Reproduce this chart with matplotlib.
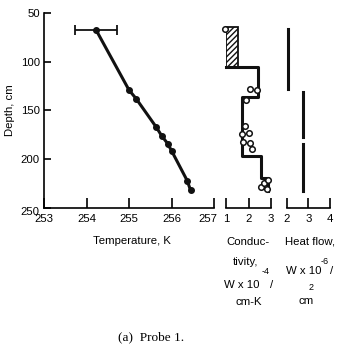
import matplotlib
matplotlib.use("Agg")
import matplotlib.pyplot as plt
from matplotlib.patches import Rectangle
import matplotlib.transforms as mtransforms

# ---- data ----
temp_T = [254.22, 255.0, 255.17, 255.64, 255.77, 255.91, 256.01, 256.37, 256.45]
temp_depth = [67, 129, 138, 167, 176, 184, 192, 222, 232]
temp_err = 0.49

cond_step_x = [1.0, 2.4, 2.4, 1.72, 1.72, 2.56, 2.56, 2.86, 2.86]
cond_step_y = [105, 105, 136, 136, 197, 197, 219, 219, 233]
cond_box = (1.0, 1.52, 64, 105)  # x0, x1, depth top, depth bottom
cond_pts_x = [0.95, 2.07, 2.39, 1.89, 1.84, 2.04, 1.72, 1.77, 2.07, 2.14, 2.54, 2.69, 2.81, 2.88]
cond_pts_d = [66, 128, 129, 139, 166, 173, 174, 182, 183, 190, 228, 224, 231, 221]

heat_x = [2.07, 2.73, 2.76]
heat_top = [66, 131, 184]
heat_bot = [128, 177, 233]

temp_ticks = [253, 254, 255, 256, 257]
depth_ticks = [50, 100, 150, 200, 250]
cond_ticks = [1, 2, 3]
heat_ticks = [2, 3, 4]

W, H = 341, 360
fig = plt.figure(figsize=(W / 100, H / 100), dpi=100)
FONT = ['Liberation Sans', 'DejaVu Sans']
plt.rcParams['font.family'] = FONT
FS = 8.2

def ax_rect(x0, x1, ytop, ybot):
    return [x0 / W, 1 - ybot / H, (x1 - x0) / W, (ybot - ytop) / H]

ytop, ybot = 13, 208
ax1 = fig.add_axes(ax_rect(44, 214, ytop, ybot))
ax2 = fig.add_axes(ax_rect(226, 271, ytop, ybot))
ax3 = fig.add_axes(ax_rect(287, 329.5, ytop, ybot))

lw_data = 2.2
col = '#111111'

# temperature
ax1.plot(temp_T, temp_depth, color=col, lw=lw_data, marker='o', ms=4, zorder=3)
ax1.errorbar([temp_T[0]], [temp_depth[0]], xerr=[[temp_err], [temp_err]], color=col,
             lw=1.3, capsize=3.5, capthick=1.3)
ax1.set_xlim(253, 257)
ax1.set_ylim(250, 50)
ax1.set_xticks(temp_ticks)
ax1.set_yticks(depth_ticks)
ax1.spines['top'].set_visible(False)
ax1.spines['right'].set_visible(False)
ax1.tick_params(axis='x', direction='in', length=7, width=1.2, labelsize=FS, pad=4)
ax1.tick_params(axis='y', direction='in', length=5, width=1.2, labelsize=FS, pad=3)
ax1.set_ylabel('Depth, cm', fontsize=FS, labelpad=4)

# conductivity
x0, x1, d0, d1 = cond_box
ax2.add_patch(Rectangle((x0, d0), x1 - x0, d1 - d0, facecolor='white', edgecolor=col,
                        hatch='//////', lw=1.3))
ax2.plot(cond_step_x, cond_step_y, color=col, lw=lw_data, zorder=3)
ax2.plot(cond_pts_x, cond_pts_d, linestyle='none', marker='o', ms=4, mfc='white',
         mec=col, mew=1.1, zorder=4)
ax2.set_xlim(1, 3)
ax2.set_ylim(250, 50)
ax2.set_xticks(cond_ticks)

# heat flow
for hx, t, b in zip(heat_x, heat_top, heat_bot):
    ax3.plot([hx, hx], [t, b], color=col, lw=lw_data)
ax3.set_xlim(2, 4)
ax3.set_ylim(250, 50)
ax3.set_xticks(heat_ticks)

for ax in (ax2, ax3):
    for s in ('top', 'right', 'left'):
        ax.spines[s].set_visible(False)
    ax.set_yticks([])
    ax.tick_params(axis='x', direction='in', length=7, width=1.2, labelsize=FS, pad=4)
for ax in (ax1, ax2, ax3):
    for s in ax.spines.values():
        s.set_linewidth(1.2)
    for l in ax.lines:
        l.set_clip_on(False)

# shift end labels slightly so neighbouring panels don't collide
fig.canvas.draw()
def shift(lbl, dx, dy=0):
    lbl.set_transform(lbl.get_transform() + mtransforms.ScaledTranslation(dx / 100, dy / 100, fig.dpi_scale_trans))
xl = ax1.get_xticklabels()
shift(xl[-1], -6)
shift(ax1.get_yticklabels()[-1], 0, -3)

def ftext(x, y, s, **kw):
    fig.text(x / W, 1 - y / H, s, ha=kw.pop('ha', 'center'), va=kw.pop('va', 'center'),
             fontsize=kw.pop('fontsize', FS), **kw)

ftext(132, 241, 'Temperature, K')
ftext(248, 242, 'Conduc-')
ftext(246, 262, 'tivity,')
ftext(242, 285, 'W x 10')
ftext(266, 272, '-4', fontsize=6.5)
ftext(272, 285, '/')
ftext(249, 302, 'cm-K')
ftext(310, 242, 'Heat flow,')
ftext(304, 271, 'W x 10')
ftext(325, 261, '-6', fontsize=6.5)
ftext(332, 271, '/')
ftext(306, 301, 'cm')
ftext(311, 288, '2', fontsize=6.5)
ftext(151, 337, '(a)  Probe 1.', fontsize=9.5, family=['Liberation Serif', 'DejaVu Serif'])

fig.savefig('out.png', dpi=100)
